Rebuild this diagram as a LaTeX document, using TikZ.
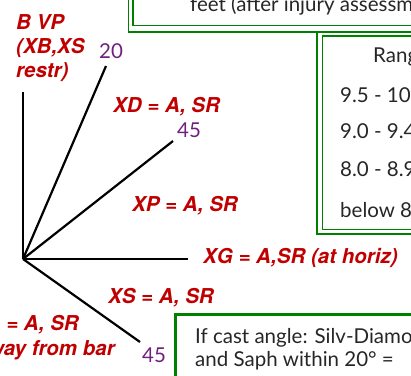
\documentclass[tikz,border=0pt]{standalone}
\usepackage{fontspec}
\setmainfont{Lato}
\newfontfamily\lblfont{TeX Gyre Heros}
\usepackage{tikz}
\usetikzlibrary{positioning}
\definecolor{boxgreen}{RGB}{0,128,0}
\definecolor{lblred}{RGB}{192,0,0}
\definecolor{degpurple}{RGB}{112,32,128}

\begin{document}
\begin{tikzpicture}[
    x=1pt, y=-1pt,
    every node/.style={inner sep=0pt, anchor=base west},
    ray/.style={draw, black, line width=2.2pt},
    lbl/.style={text=lblred, font=\lblfont\fontsize{20.5}{24}\selectfont\bfseries\itshape},
    deg/.style={text=degpurple, font=\fontsize{20.5}{24}\selectfont},
    txt/.style={text=black!85, font=\fontsize{20.5}{24}\selectfont},
    dbl/.style={draw=boxgreen, line width=1.8pt},
    sgl/.style={draw=boxgreen, line width=3pt},
]
\useasboundingbox (0,0) rectangle (411,375);
% boxes
\draw[dbl] (128.5,-10) rectangle (430,32);
\draw[dbl] (133,-10) rectangle (430,25.5);
\draw[dbl] (317,32) rectangle (430,234);
\draw[dbl] (322.5,35.7) rectangle (430,229.5);
\draw[sgl] (175.5,314) rectangle (430,390);
% rays
\coordinate (o) at (23,259);
\coordinate (vp) at (23,92);
\coordinate (xd) at (106,66);
\coordinate (xp) at (173,141);
\coordinate (xg) at (188,259);
\coordinate (xs) at (140,342);
\foreach \e in {vp,xd,xp,xg,xs}
  \draw[ray] (o) -- (\e);
% labels
\node[lbl, align=left] (bvp) at (16,77) {B VP\\(XB,XS\\restr)};
\node[deg] (d20) at (99,58) {20};
\node[lbl] (lxd) at (113,112) {XD = A, SR};
\node[deg] (d45a) at (177,137) {45};
\node[lbl] (lxp) at (132,211) {XP = A, SR};
\node[lbl] (lxg) at (203,263) {XG = A,SR (at horiz)};
\node[lbl] (lxs) at (108,303) {XS = A, SR};
\node[lbl, anchor=base east] (lxc) at (79,330) {= A, SR};
\node[lbl, anchor=base east] (lxw) at (115,355) {way from bar};
\node[deg] (d45b) at (142,362) {45};
% box texts
\node[txt] (feet) at (190,11) {feet (after injury assessment)};
\node[txt] (rng) at (373,62) {Range};
\node[txt] (r1) at (340,102) {9.5 - 10};
\node[txt] (r2) at (340,138) {9.0 - 9.4};
\node[txt] (r3) at (340,176) {8.0 - 8.9};
\node[txt] (r4) at (340,217) {below 8};
\node[txt] (cast1) at (195,343) {If cast angle: Silv-Diamond};
\node[txt] (cast2) at (195,366) {and Saph within 20° = };
\end{tikzpicture}
\end{document}
